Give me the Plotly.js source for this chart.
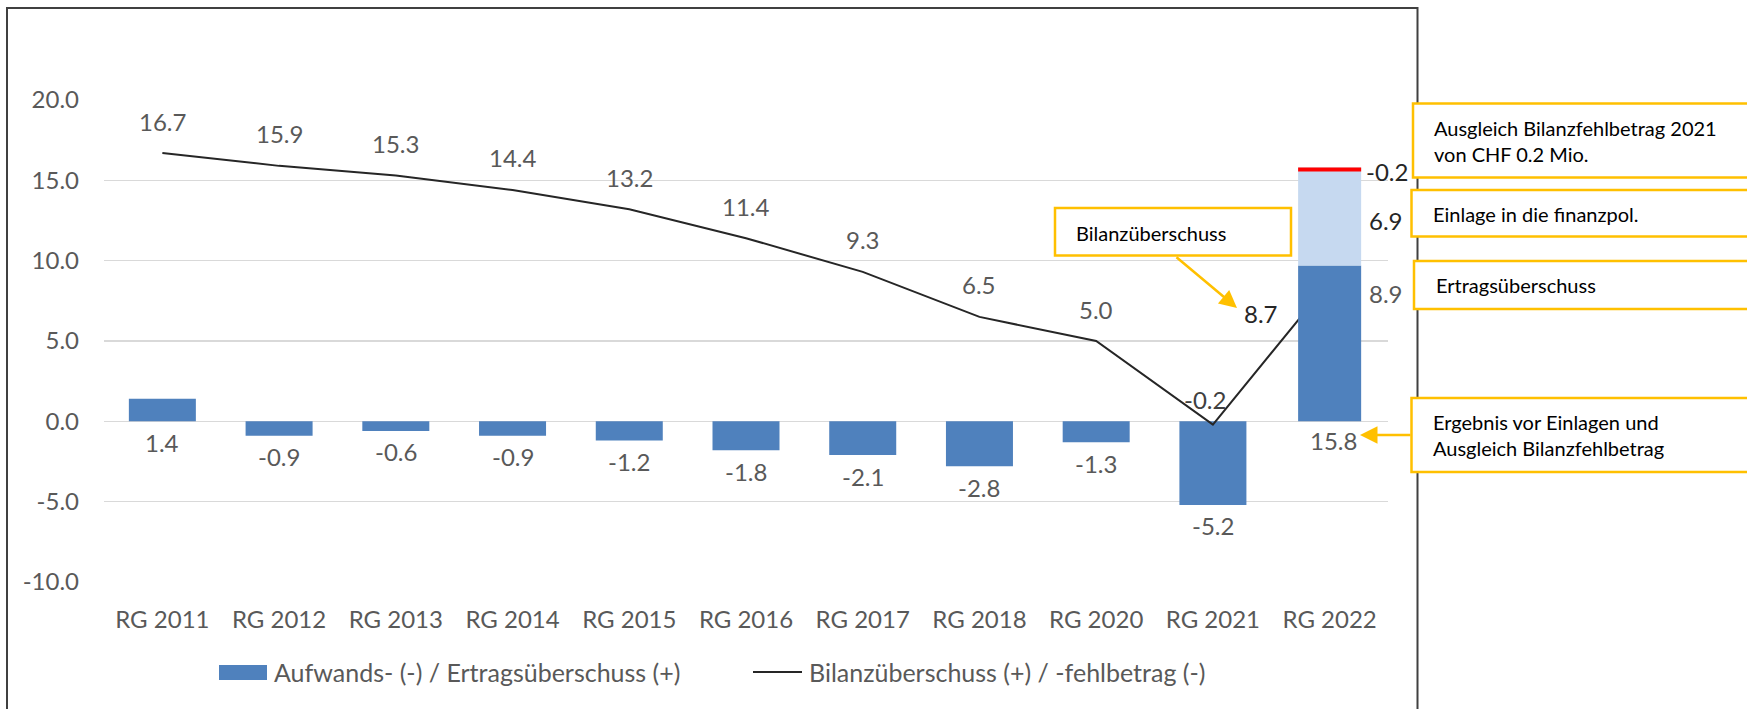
<!DOCTYPE html>
<html>
<head>
<meta charset="utf-8">
<script src="https://cdn.plot.ly/plotly-3.0.1.min.js"></script>
<style>
html,body{margin:0;padding:0;background:#fff;}
#chart{width:1747px;height:709px;}
</style>
</head>
<body>
<div id="chart"></div>
<script>
// ---------- data ----------
const categories = ['RG 2011','RG 2012','RG 2013','RG 2014','RG 2015','RG 2016','RG 2017','RG 2018','RG 2020','RG 2021','RG 2022'];
const barValues  = [1.4, -0.9, -0.6, -0.9, -1.2, -1.8, -2.1, -2.8, -1.3, -5.2, null];
const lineValues = [16.7, 15.9, 15.3, 14.4, 13.2, 11.4, 9.3, 6.5, 5.0, -0.2, 8.7];
const result2022 = 15.8;                       // Ergebnis vor Einlagen (label under the 2022 bar)
const stackNames  = ['Ertragsüberschuss', 'Einlage in die finanzpol.', 'Ausgleich Bilanzfehlbetrag 2021'];
const stackValues = [9.7, 6.1, -0.25];         // segment heights as drawn in the picture
const stackLabels = ['8.9', '6.9', '-0.2'];    // printed segment labels
const yTickVals = [-10, -5, 0, 5, 10, 15, 20];
const yTickText = ['-10.0', '-5.0', '0.0', '5.0', '10.0', '15.0', '20.0'];
const seriesNames = ['Aufwands- (-) / Ertragsüberschuss (+)', 'Bilanzüberschuss (+) / -fehlbetrag (-)'];

// ---------- styles ----------
const FONT = 'Lato, "Open Sans", sans-serif';
const GRAY = '#595959';
const DARK = '#262626';
const BLUE = '#4F81BD';
const LIGHT = '#C6D9F0';
const RED = '#FF0000';
const GOLD = '#FFC000';
const FS = 24;
const W = 1747, H = 709;
const M = {l: 104, r: 359, t: 100, b: 127};
const PW = W - M.l - M.r, PH = H - M.t - M.b;
const X = px => (px - M.l) / PW;     // pixel -> paper (decorations only)
const Y = py => (H - M.b - py) / PH;

const last = categories.length - 1;
const cat2022 = categories[last];

// stack bases computed from the segment values
const stackBases = [];
let acc = 0;
stackValues.forEach((v, i) => {
  if (v >= 0) { stackBases.push(acc); acc += v; }
  else { stackBases.push(acc); }
});
const stackColors = [BLUE, LIGHT, RED];

const traces = [
  {
    type: 'bar', name: seriesNames[0], x: categories, y: barValues,
    marker: {color: BLUE, line: {width: 0}}, showlegend: false, hoverinfo: 'x+y'
  },
  {
    type: 'scatter', mode: 'lines', name: seriesNames[1], x: categories, y: lineValues,
    line: {color: DARK, width: 2}, showlegend: false, hoverinfo: 'x+y'
  }
];
stackValues.forEach((v, i) => {
  traces.push({
    type: 'bar', name: stackNames[i], x: [cat2022], y: [v], base: [stackBases[i]],
    xaxis: 'x2', yaxis: 'y2', width: 0.54,
    marker: {color: stackColors[i], line: {width: 0}}, showlegend: false, hoverinfo: 'name+y'
  });
});

// ---------- annotations ----------
const ann = [];
const lblFont = (c, s) => ({family: FONT, size: s || FS, color: c || GRAY});

// line labels
lineValues.forEach((v, i) => {
  let xs = 0, ys = 32, col = GRAY;
  if (i === last - 1) { xs = -8; ys = 25; col = '#404040'; }
  if (i === last) { xs = -69; ys = -32; col = DARK; }
  ann.push({x: categories[i], y: v, xref: 'x', yref: 'y', text: v.toFixed(1),
    showarrow: false, xshift: xs, yshift: ys, font: lblFont(col)});
});
// bar labels (below the bar end / below the base)
barValues.forEach((v, i) => {
  if (v === null) return;
  ann.push({x: categories[i], y: Math.min(v, 0), xref: 'x', yref: 'y', text: v.toFixed(1),
    showarrow: false, yshift: -21, font: lblFont(GRAY)});
});
// 2022 result label
ann.push({x: cat2022, y: 0, xref: 'x', yref: 'y', text: result2022.toFixed(1),
  showarrow: false, xshift: 4, yshift: -19, font: lblFont(GRAY)});
// stack labels right of the 2022 bar
const top2022 = stackBases[2];
ann.push({x: cat2022, y: top2022, xref: 'x', yref: 'y', text: stackLabels[2],
  showarrow: false, xshift: 57, yshift: -4, font: lblFont(DARK)});
ann.push({x: cat2022, y: stackBases[1] + stackValues[1] / 2, xref: 'x', yref: 'y', text: stackLabels[1],
  showarrow: false, xshift: 56, yshift: -4, font: lblFont(DARK)});
ann.push({x: cat2022, y: stackBases[1], xref: 'x', yref: 'y', text: stackLabels[0],
  showarrow: false, xshift: 56, yshift: -28, font: lblFont(GRAY)});

// callout texts
const boxFont = {family: FONT, size: 20, color: '#000000'};
ann.push({xref: 'paper', yref: 'paper', x: X(1432), y: Y(141), xanchor: 'left', yanchor: 'middle', align: 'left',
  text: 'Ausgleich Bilanzfehlbetrag 2021<br>von CHF 0.2 Mio.', showarrow: false, font: boxFont});
ann.push({xref: 'paper', yref: 'paper', x: X(1431), y: Y(214), xanchor: 'left', yanchor: 'middle', align: 'left',
  text: 'Einlage in die finanzpol.', showarrow: false, font: boxFont});
ann.push({xref: 'paper', yref: 'paper', x: X(1434), y: Y(285), xanchor: 'left', yanchor: 'middle', align: 'left',
  text: 'Ertragsüberschuss', showarrow: false, font: boxFont});
ann.push({xref: 'paper', yref: 'paper', x: X(1431), y: Y(435), xanchor: 'left', yanchor: 'middle', align: 'left',
  text: 'Ergebnis vor Einlagen und<br>Ausgleich Bilanzfehlbetrag', showarrow: false, font: boxFont});
ann.push({xref: 'paper', yref: 'paper', x: X(1074), y: Y(232.5), xanchor: 'left', yanchor: 'middle', align: 'left',
  text: 'Bilanzüberschuss', showarrow: false, font: boxFont});
// arrows
ann.push({xref: 'paper', yref: 'paper', x: X(1237), y: Y(308), ax: -62, ay: -52, text: '',
  showarrow: true, arrowhead: 2, arrowsize: 1.4, arrowwidth: 2.5, arrowcolor: GOLD, standoff: 0, startstandoff: 0});
ann.push({xref: 'paper', yref: 'paper', x: X(1360), y: Y(435), ax: 52, ay: 0, text: '',
  showarrow: true, arrowhead: 2, arrowsize: 1.4, arrowwidth: 2.5, arrowcolor: GOLD, standoff: 0, startstandoff: 0});

// legend texts
const legFont = {family: FONT, size: 25, color: GRAY};
ann.push({xref: 'paper', yref: 'paper', x: X(272), y: Y(672), xanchor: 'left', yanchor: 'middle',
  text: seriesNames[0], showarrow: false, font: legFont});
ann.push({xref: 'paper', yref: 'paper', x: X(807), y: Y(672), xanchor: 'left', yanchor: 'middle',
  text: seriesNames[1], showarrow: false, font: legFont});

// ---------- shapes (frame, callout boxes, legend swatches) ----------
const boxLine = {color: GOLD, width: 2.5};
const shapes = [
  {type: 'rect', xref: 'paper', yref: 'paper', x0: X(7), x1: X(1417.5), y0: Y(8), y1: Y(740),
    line: {color: '#404040', width: 2}, fillcolor: 'rgba(0,0,0,0)'},
  {type: 'rect', xref: 'paper', yref: 'paper', x0: X(1413), x1: X(1770), y0: Y(103.5), y1: Y(177.5), line: boxLine, fillcolor: '#ffffff'},
  {type: 'rect', xref: 'paper', yref: 'paper', x0: X(1411.5), x1: X(1770), y0: Y(190), y1: Y(236.5), line: boxLine, fillcolor: '#ffffff'},
  {type: 'rect', xref: 'paper', yref: 'paper', x0: X(1414), x1: X(1770), y0: Y(261), y1: Y(309), line: boxLine, fillcolor: '#ffffff'},
  {type: 'rect', xref: 'paper', yref: 'paper', x0: X(1411.5), x1: X(1770), y0: Y(398), y1: Y(472), line: boxLine, fillcolor: '#ffffff'},
  {type: 'rect', xref: 'paper', yref: 'paper', x0: X(1055), x1: X(1291), y0: Y(208), y1: Y(255.5), line: boxLine, fillcolor: '#ffffff'},
  {type: 'rect', xref: 'paper', yref: 'paper', x0: X(219), x1: X(267), y0: Y(680), y1: Y(665),
    line: {width: 0}, fillcolor: BLUE},
  {type: 'line', xref: 'paper', yref: 'paper', x0: X(753), x1: X(802), y0: Y(672), y1: Y(672),
    line: {color: DARK, width: 2}}
];

const yRange = [-10, 20];
const xRange = [-0.5, categories.length - 0.5];
const layout = {
  width: W, height: H,
  margin: M,
  paper_bgcolor: '#ffffff', plot_bgcolor: '#ffffff',
  barmode: 'overlay', bargap: 0.426,
  showlegend: false,
  font: {family: FONT, color: GRAY},
  xaxis: {
    type: 'category', categoryorder: 'array', categoryarray: categories, range: xRange,
    showgrid: false, zeroline: false, showline: false, ticks: '',
    tickfont: {family: FONT, size: FS, color: GRAY}, ticklabelstandoff: 21, fixedrange: true
  },
  yaxis: {
    range: yRange, tickvals: yTickVals, ticktext: yTickText,
    showgrid: true, gridcolor: '#d9d9d9', gridwidth: 1.5,
    zeroline: true, zerolinecolor: '#d9d9d9', zerolinewidth: 1.5,
    showline: false, ticks: '', tickfont: {family: FONT, size: FS, color: GRAY},
    ticklabelstandoff: 24, fixedrange: true
  },
  xaxis2: {
    type: 'category', categoryorder: 'array', categoryarray: categories, range: xRange,
    overlaying: 'x', anchor: 'y2', visible: false, fixedrange: true
  },
  yaxis2: {range: yRange, overlaying: 'y', anchor: 'x2', visible: false, fixedrange: true},
  annotations: ann,
  shapes: shapes
};

Plotly.newPlot('chart', traces, layout, {displayModeBar: false, staticPlot: true});
</script>
</body>
</html>
